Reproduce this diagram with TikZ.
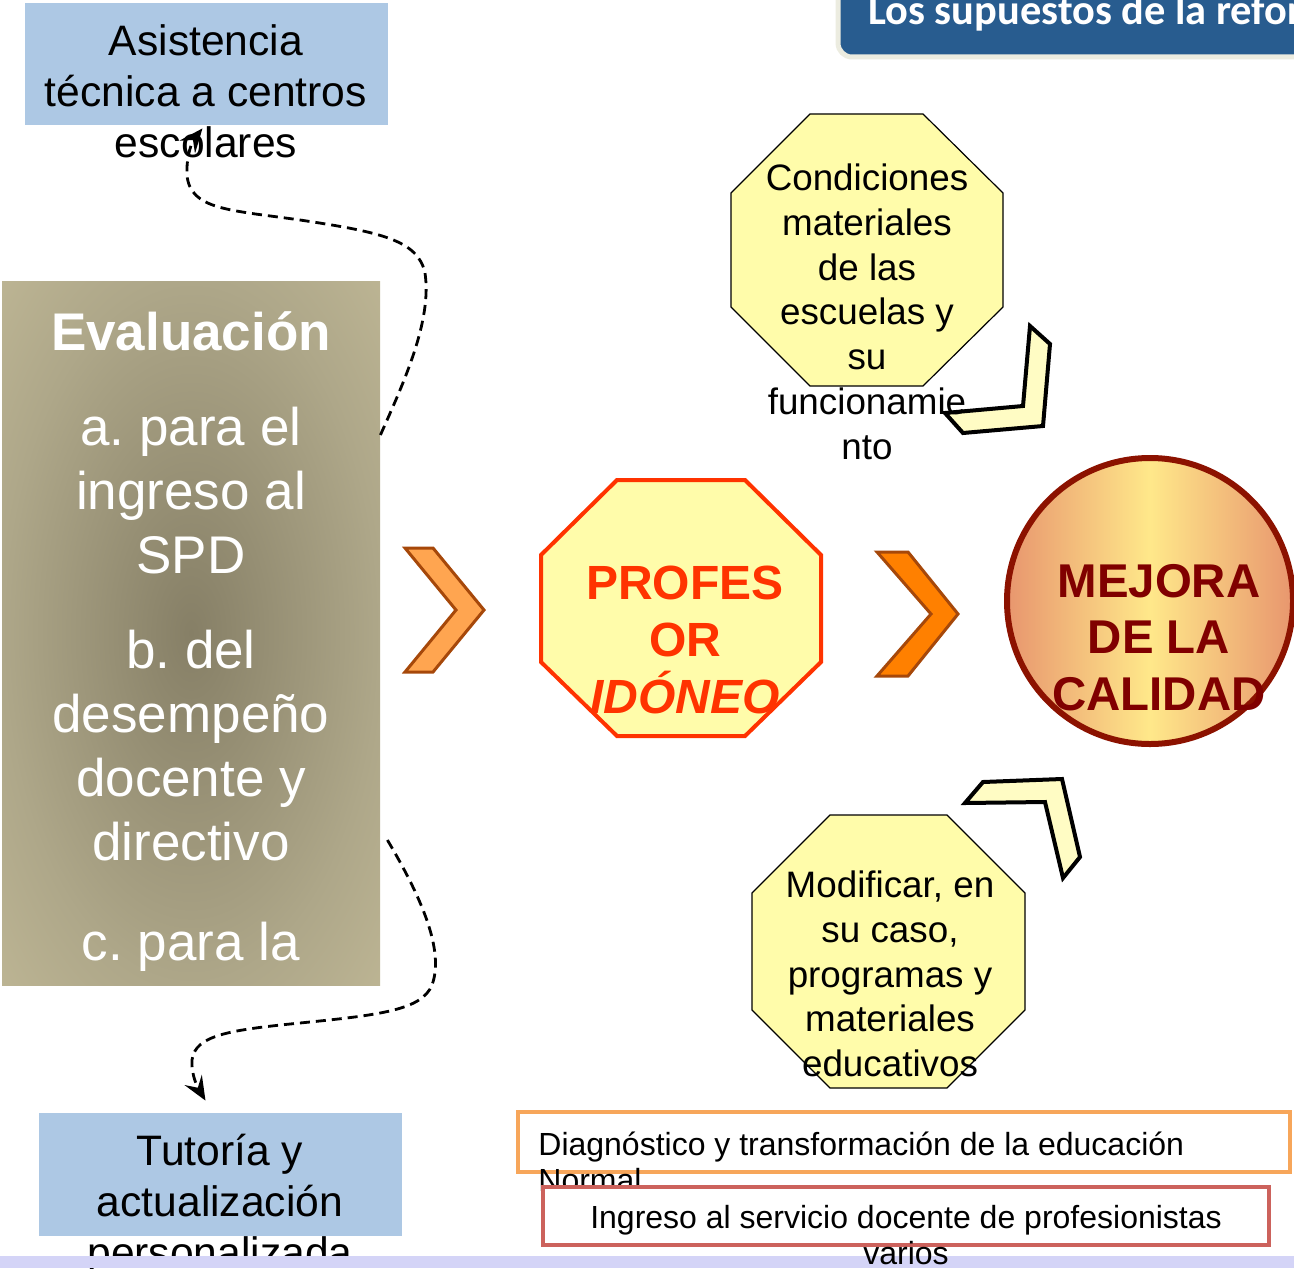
\documentclass[tikz,border=0pt]{standalone}
\usepackage{fontspec}
\setmainfont{Liberation Sans}
\newfontfamily\bannerfont{Carlito}
\usetikzlibrary{arrows.meta}
\frenchspacing

\definecolor{boxblue}{RGB}{173,200,228}
\definecolor{evalin}{RGB}{134,127,102}
\definecolor{evalmid}{RGB}{174,167,137}
\definecolor{evalout}{RGB}{207,198,161}
\definecolor{octfill}{RGB}{255,252,170}
\definecolor{bentfill}{RGB}{255,252,196}
\definecolor{stopred}{RGB}{255,51,0}
\definecolor{chevlight}{RGB}{255,165,80}
\definecolor{chevdark}{RGB}{255,128,0}
\definecolor{chevedge}{RGB}{166,72,10}
\definecolor{calsal}{RGB}{232,150,110}
\definecolor{calyel}{RGB}{255,232,138}
\definecolor{calred}{RGB}{140,18,0}
\definecolor{caltext}{RGB}{128,0,0}
\definecolor{bannerblue}{RGB}{40,92,143}
\definecolor{bannerrim}{RGB}{236,236,224}
\definecolor{orangerim}{RGB}{247,166,90}
\definecolor{redrim}{RGB}{204,98,92}
\definecolor{stripcol}{RGB}{212,212,247}

\pgfdeclareradialshading{evalshade}{\pgfpoint{0bp}{0bp}}{color(0bp)=(evalin); color(25bp)=(evalmid); color(50bp)=(evalout); color(72bp)=(evalout)}

\begin{document}
\begin{tikzpicture}[x=0.5pt,y=-0.5pt,
  bluebox/.style={rectangle, fill=boxblue, draw=none, inner sep=0pt},
  boxtext/.style={inner sep=0pt, align=center, font=\fontsize{21.3}{25.5}\selectfont},
  octtext/.style={inner sep=0pt, align=center, font=\fontsize{18.4}{22.4}\selectfont},
  evaltext/.style={inner sep=0pt, align=center, text=white, font=\fontsize{26.5}{32}\selectfont},
  octshape/.style={fill=octfill, draw=black, line width=0.6pt, line join=miter},
  bentarrow/.style={fill=bentfill, draw=black, line width=2pt, line join=miter},
  chevron/.style={draw=chevedge, line width=1.5pt, line join=miter},
  dashconn/.style={draw=black, line width=1.4pt, dash pattern=on 5pt off 3pt, -{Stealth[length=12pt,width=10pt,inset=4.5pt]}},
  smalltext/.style={inner sep=0pt, font=\fontsize{16}{18}\selectfont},
]
\useasboundingbox (0,0) rectangle (1294,1268);
\clip (0,0) rectangle (1294,1268);

% banner
\draw[fill=bannerblue, draw=bannerrim, line width=2.5pt, rounded corners=7pt] (838,-40) rectangle (1340,57);
\node[anchor=base west, inner sep=0pt, text=white, font=\bannerfont\bfseries\fontsize{21.2}{25}\selectfont] (banner) at (868,25) {Los supuestos de la refor};

% Asistencia
\node[bluebox, minimum width=181.5pt, minimum height=61pt] (asis) at (206.5,64) {};
\node[boxtext, anchor=north] (asistxt) at (206,7) {\rule{0pt}{24pt}Asistencia\\técnica a centros\\escolares};

% Evaluacion
\node[rectangle, minimum width=189pt, minimum height=352pt, inner sep=0pt, shade, shading=evalshade] (eval) at (191,633) {};
\node[evaltext, anchor=north] (evaltxt) at (191,294) {\rule{0pt}{28pt}\textbf{Evaluación}\\[15.5pt]a. para el\\ingreso al\\SPD\\[15.5pt]b. del\\desempeño\\docente y\\directivo\\[18pt]c. para la};

% Tutoria
\node[bluebox, minimum width=181.5pt, minimum height=61.5pt] (tut) at (220.5,1174.5) {};
\node[boxtext, anchor=north] (tuttxt) at (220,1117) {\rule{0pt}{24pt}Tutoría y\\actualización\\personalizada};

% dashed connectors
\draw[dashconn] ([yshift=99pt]eval.east) .. controls (405,380) and (432,320) .. (425,273) .. controls (418,240) and (380,232) .. (300,220) .. controls (230,210) and (190,210) .. (187,175) .. controls (186,155) and (193,140) .. ([xshift=-2pt,yshift=-1.5pt]asis.south);
\draw[dashconn] ([xshift=3.5pt,yshift=-103.5pt]eval.east) .. controls (420,895) and (445,950) .. (432,985) .. controls (422,1010) and (380,1015) .. (300,1023) .. controls (230,1030) and (195,1035) .. (192,1060) .. controls (191,1075) and (198,1088) .. ([xshift=-7.5pt,yshift=6pt]tut.north);

% chevrons
\draw[chevron, fill=chevlight] (405,548) -- (433,548) -- (484,610) -- (433,672) -- (405,672) -- (456,610) -- cycle;
\draw[chevron, fill=chevdark] (877,552) -- (908,552) -- (958,614) -- (908,676) -- (877,676) -- (931,614) -- cycle;

% profesor
\draw[fill=octfill, draw=stopred, line width=2pt, line join=miter] (617,480) -- (745,480) -- (821,555) -- (821,662) -- (745,736) -- (617,736) -- (541,662) -- (541,555) -- cycle;
\node[inner sep=0pt, align=center, text=stopred, font=\bfseries\fontsize{24}{28.5}\selectfont, anchor=north] (proftxt) at (685,543) {\rule{0pt}{28pt}PROFES\\OR\\\textit{IDÓNEO}};

% bent arrows
\draw[bentarrow] (1030,326) -- (1050,344) -- (1043,426) -- (963,433) -- (945,413) -- (1023,406) -- cycle;
\draw[bentarrow] (983,782) -- (1062,779) -- (1080,857) -- (1063,878) -- (1045,802) -- (965,803) -- cycle;

% condiciones
\draw[octshape] (810,114) -- (923,114) -- (1003,193) -- (1003,307) -- (923,386) -- (810,386) -- (731,307) -- (731,193) -- cycle;
\node[octtext, anchor=north] (condtxt) at (867,150) {\rule{0pt}{20pt}Condiciones\\materiales\\de las\\escuelas y\\su\\funcionamie\\nto};

% modificar
\draw[octshape] (830,815) -- (947,815) -- (1025,893) -- (1025,1010) -- (947,1088) -- (830,1088) -- (752,1010) -- (752,893) -- cycle;
\node[octtext, anchor=north] (modtxt) at (890,857) {\rule{0pt}{20pt}Modificar, en\\su caso,\\programas y\\materiales\\educativos};

% mejora
\node[circle, minimum size=143pt, inner sep=0pt, draw=calred, line width=3pt, left color=calsal, right color=calsal, middle color=calyel] (mejora) at (1150,601) {};
\node[inner sep=0pt, align=center, text=caltext, font=\bfseries\fontsize{23.7}{28.25}\selectfont, anchor=north] (mejtxt) at (1159,541) {\rule{0pt}{28pt}MEJORA\\DE LA\\CALIDAD};

% bottom strip
\fill[stripcol] (0,1256) rectangle (1294,1268);

% bottom boxes
\node[rectangle, draw=orangerim, fill=white, line width=2pt, minimum width=386pt, minimum height=30pt, inner sep=0pt] (diagbox) at (904,1142) {};
\node[smalltext, anchor=north west, align=left] (diagtxt) at (538,1119) {\rule{0pt}{18pt}Diagnóstico y transformación de la educación\\Normal};
\node[rectangle, draw=redrim, fill=white, line width=2pt, minimum width=363pt, minimum height=29pt, inner sep=0pt] (ingbox) at (906,1216) {};
\node[smalltext, anchor=north, align=center] (ingtxt) at (906,1192) {\rule{0pt}{18pt}Ingreso al servicio docente de profesionistas\\varios};
\end{tikzpicture}
\end{document}
